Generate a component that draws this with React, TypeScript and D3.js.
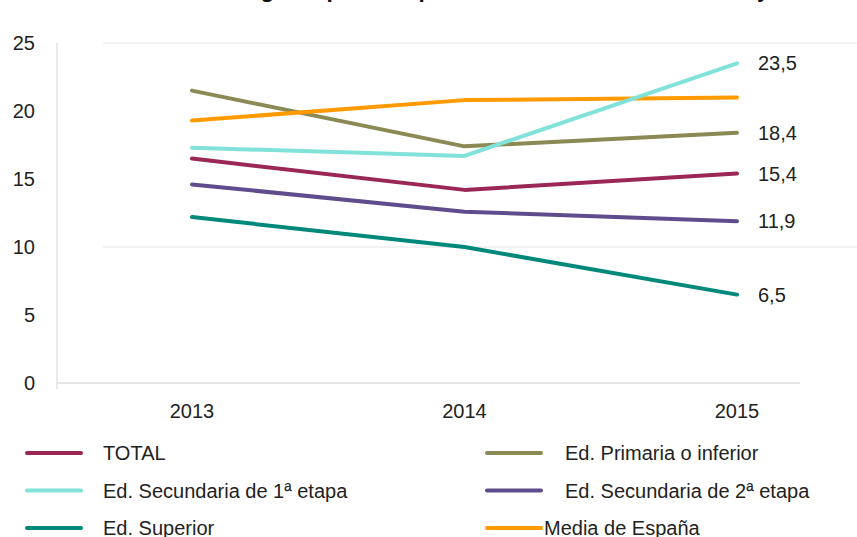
import React, { useEffect, useRef } from 'react';
import * as d3 from 'd3';

const years = ['2013', '2014', '2015'];
const seriesNames = [
  'TOTAL',
  'Ed. Primaria o inferior',
  'Ed. Secundaria de 1ª etapa',
  'Ed. Secundaria de 2ª etapa',
  'Ed. Superior',
  'Media de España',
];
const total = [16.5, 14.2, 15.4];
const primaria = [21.5, 17.4, 18.4];
const secundaria1 = [17.3, 16.7, 23.5];
const secundaria2 = [14.6, 12.6, 11.9];
const superior = [12.2, 10.0, 6.5];
const mediaEspana = [19.3, 20.8, 21.0];
const yTicks = [0, 5, 10, 15, 20, 25];
const colors = ['#9a2755', '#8b8a55', '#80e2d8', '#5f4c8c', '#00897a', '#ff9a00'];

const title = 'Tasa de riesgo de pobreza por nivel de formación. Castilla y León';

export default function App() {
  const ref = useRef<SVGSVGElement>(null);

  useEffect(() => {
    const width = 857;
    const svg = d3.select(ref.current);
    svg.selectAll('*').remove();

    const values = [total, primaria, secundaria1, secundaria2, superior, mediaEspana];
    // draw order: orange and aqua on top like the original
    const order = [1, 0, 3, 4, 5, 2];

    const x = d3.scalePoint().domain(years).range([192, 737]);
    const y = d3.scaleLinear().domain([0, 25]).range([383, 43]);
    const font = 'Liberation Sans, Arial, Helvetica, sans-serif';

    // title, cut off at the top edge in the original
    svg.append('text')
      .attr('x', 481)
      .attr('y', -3)
      .attr('text-anchor', 'middle')
      .attr('font-family', font)
      .attr('font-weight', 'bold')
      .attr('font-size', 22.4)
      .attr('fill', '#111')
      .text(title);

    // grid and axis
    svg.selectAll('line.grid')
      .data([10, 25])
      .enter()
      .append('line')
      .attr('x1', 103)
      .attr('x2', width)
      .attr('y1', d => y(d))
      .attr('y2', d => y(d))
      .attr('stroke', '#e4e4e4')
      .attr('stroke-width', 1);
    svg.append('line')
      .attr('x1', 57).attr('x2', 800)
      .attr('y1', y(0)).attr('y2', y(0))
      .attr('stroke', '#dcdcdc').attr('stroke-width', 1.5);
    svg.append('line')
      .attr('x1', 57).attr('x2', 57)
      .attr('y1', y(25)).attr('y2', y(0) + 6)
      .attr('stroke', '#e2e2e2').attr('stroke-width', 1.5);

    svg.selectAll('text.ytick')
      .data(yTicks)
      .enter()
      .append('text')
      .attr('x', 35)
      .attr('y', d => y(d) + 7)
      .attr('text-anchor', 'end')
      .attr('font-family', font)
      .attr('font-size', 20)
      .attr('fill', '#222')
      .text(d => d);

    svg.selectAll('text.xtick')
      .data(years)
      .enter()
      .append('text')
      .attr('x', d => x(d)!)
      .attr('y', 418)
      .attr('text-anchor', 'middle')
      .attr('font-family', font)
      .attr('font-size', 20)
      .attr('fill', '#222')
      .text(d => d);

    const line = d3.line<number>()
      .x((d, i) => x(years[i])!)
      .y(d => y(d));

    order.forEach(k => {
      svg.append('path')
        .attr('d', line(values[k]))
        .attr('fill', 'none')
        .attr('stroke', colors[k])
        .attr('stroke-width', 4)
        .attr('stroke-linejoin', 'round')
        .attr('stroke-linecap', 'round');
    });

    // end labels (Media de España has none)
    const fmt = (v: number) => d3.format('.1f')(v).replace('.', ',');
    [0, 1, 2, 3, 4].forEach(k => {
      const v = values[k][2];
      svg.append('text')
        .attr('x', 758)
        .attr('y', y(v) + 7)
        .attr('font-family', font)
        .attr('font-size', 20)
        .attr('fill', '#222')
        .text(fmt(v));
    });

    // legend
    seriesNames.forEach((name, i) => {
      const col = i % 2;
      const row = Math.floor(i / 2);
      const ly = 453 + row * 37.5;
      const lx = col === 0 ? 27 : 487;
      svg.append('line')
        .attr('x1', lx).attr('x2', lx + 54)
        .attr('y1', ly).attr('y2', ly)
        .attr('stroke', colors[i])
        .attr('stroke-width', 4)
        .attr('stroke-linecap', 'round');
      svg.append('text')
        .attr('x', col === 0 ? 103 : (i === 5 ? 544 : 565))
        .attr('y', ly + 7)
        .attr('font-family', font)
        .attr('font-size', 20)
        .attr('fill', '#222')
        .text(name);
    });
  }, []);

  return (
    <svg
      ref={ref}
      width={857}
      height={537}
      style={{ position: 'absolute', left: 0, top: 0, background: '#fff' }}
    />
  );
}
